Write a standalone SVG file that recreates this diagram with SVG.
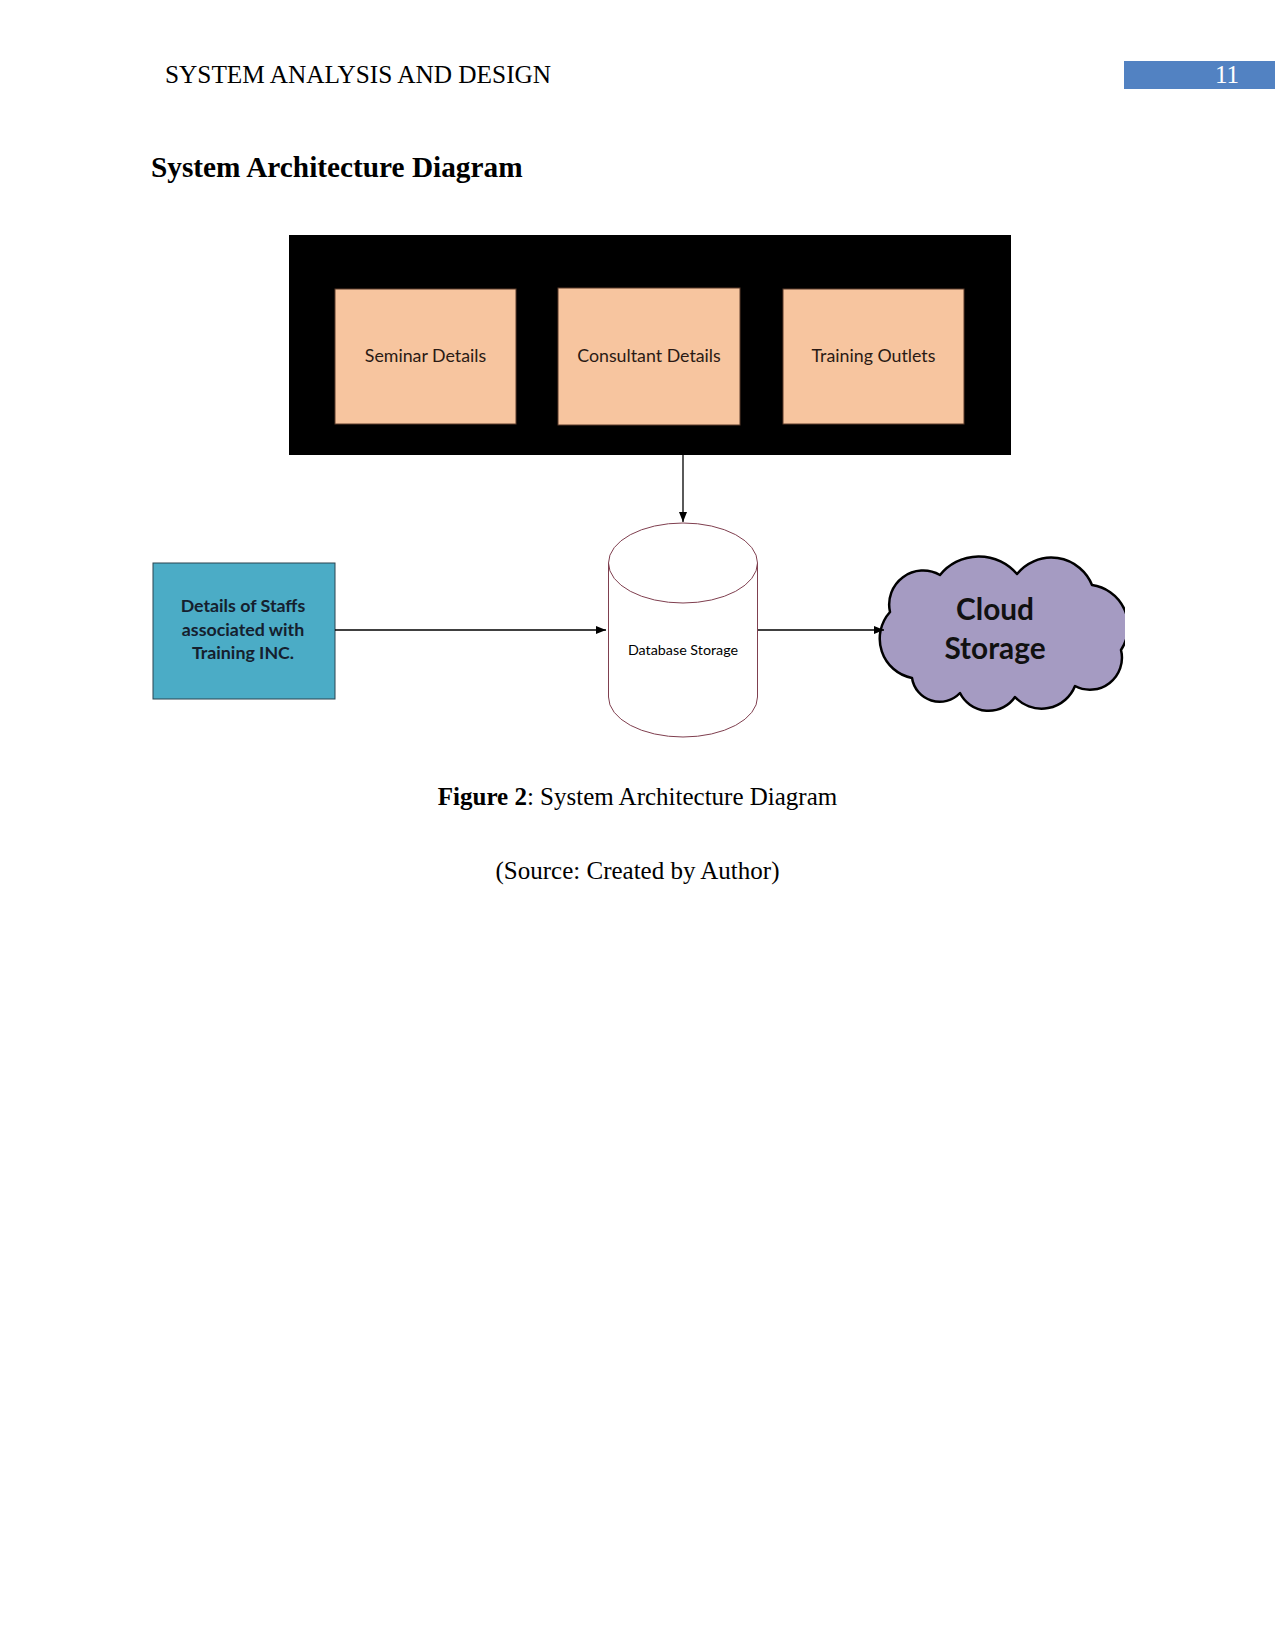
<svg xmlns="http://www.w3.org/2000/svg" width="1275" height="1651" viewBox="0 0 1275 1651">
<defs>
<style>
.serif{font-family:"Liberation Serif","Times New Roman",serif;fill:#000}
.lbl{font-family:Lato,"Open Sans","Liberation Sans",sans-serif;font-size:17.8px;fill:#2a1a14;text-anchor:middle}
.staff{font-family:Lato,"Open Sans","Liberation Sans",sans-serif;font-size:17.8px;font-weight:bold;fill:#15202e;text-anchor:middle}
.cloudtxt{font-family:Lato,"Open Sans","Liberation Sans",sans-serif;font-size:29.8px;font-weight:bold;fill:#111;text-anchor:middle}
.peach{fill:#F7C59F;stroke:#5a3a2a;stroke-width:1}
.conn{stroke:#000;stroke-width:1.3;fill:none;marker-end:url(#arr)}
</style>
<marker id="arr" viewBox="0 0 10 8" refX="10" refY="4" markerWidth="10" markerHeight="8" markerUnits="userSpaceOnUse" orient="auto">
<path d="M0,0 L10,4 L0,8 z" fill="#000"/>
</marker>
<clipPath id="cloudclip"><rect x="860" y="540" width="265" height="180"/></clipPath>
</defs>
<rect x="0" y="0" width="1275" height="1651" fill="#fff"/>
<g id="header">
<text class="serif" x="165" y="83" font-size="25.3">SYSTEM ANALYSIS AND DESIGN</text>
<rect x="1124" y="61" width="151" height="28" fill="#5282C2"/>
<text x="1227" y="83" font-family="Liberation Serif,'Times New Roman',serif" font-size="25" fill="#fff" text-anchor="middle">11</text>
</g>
<g id="title">
<text class="serif" x="151" y="177" font-size="29.3" font-weight="bold">System Architecture Diagram</text>
</g>
<g id="container">
<rect x="289" y="235" width="722" height="220" fill="#000"/>
</g>
<g id="seminar">
<rect class="peach" x="335" y="289" width="181" height="135"/>
<text class="lbl" x="425.5" y="362">Seminar Details</text>
</g>
<g id="consultant">
<rect class="peach" x="558" y="288" width="182" height="137"/>
<text class="lbl" x="649" y="362">Consultant Details</text>
</g>
<g id="training">
<rect class="peach" x="783" y="289" width="181" height="135"/>
<text class="lbl" x="873.5" y="362">Training Outlets</text>
</g>
<g id="staff">
<rect x="153" y="563" width="182" height="136" fill="#4BACC6" stroke="#2b4450" stroke-width="1"/>
<text class="staff" x="243" y="612">Details of Staffs</text>
<text class="staff" x="243" y="636">associated with</text>
<text class="staff" x="243" y="659">Training INC.</text>
</g>
<g id="database">
<path d="M608.5,563 A74.5,40 0 0 1 757.5,563 L757.5,697 A74.5,40 0 0 1 608.5,697 Z" fill="#fff" stroke="#7f3f4f" stroke-width="1"/>
<path d="M608.5,563 A74.5,40 0 0 0 757.5,563" fill="none" stroke="#7f3f4f" stroke-width="1"/>
<text x="683" y="655" font-family="Lato,'Open Sans','Liberation Sans',sans-serif" font-size="14.3" fill="#000" text-anchor="middle">Database Storage</text>
</g>
<g id="cloud">
<path clip-path="url(#cloudclip)" d="M890,612 A34,34 0 0 1 940,575 A50,50 0 0 1 1017,574 A44,44 0 0 1 1092,585 A42,42 0 0 1 1121,650 A32,32 0 0 1 1075,686 A36,36 0 0 1 1015,697 A32,32 0 0 1 960,693 A28,28 0 0 1 912,678 A40,40 0 0 1 890,612 Z" fill="#A59BC2" stroke="#000" stroke-width="2.5" stroke-linejoin="round"/>
<text class="cloudtxt" x="995" y="620">Cloud</text>
<text class="cloudtxt" x="995" y="659">Storage</text>
</g>
<g id="connectors">
<line class="conn" x1="683" y1="455" x2="683" y2="522"/>
<line class="conn" x1="335" y1="630" x2="606" y2="630"/>
<line class="conn" x1="758" y1="630" x2="884" y2="630"/>
</g>
<g id="caption">
<text class="serif" x="637.5" y="805" font-size="25" text-anchor="middle"><tspan font-weight="bold">Figure 2</tspan>: System Architecture Diagram</text>
<text class="serif" x="637.5" y="879" font-size="25" text-anchor="middle">(Source: Created by Author)</text>
</g>
</svg>
